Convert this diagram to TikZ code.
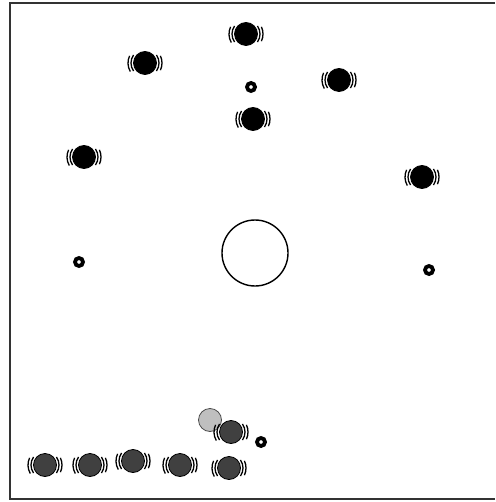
\documentclass[tikz,border=0pt]{standalone}
\begin{document}
\begin{tikzpicture}[x=1pt,y=-1pt,
  blobfill/.style={fill=black,draw=black,line width=0.8pt},
  texfill/.style={fill=black!75,draw=black,line width=0.8pt},
  ear/.style={draw=black,line width=1.3pt},
  ring/.style={draw=black,line width=3.8pt,fill=white},
  bigring/.style={draw=black,line width=1.4pt},
  frame/.style={draw=black!80,line width=1.2pt},
  earpair/.pic={
    \draw[ear] (145:14) arc (145:215:14);
    \draw[ear] (150:17) arc (150:205:17);
    \draw[ear] (-35:14) arc (-35:35:14);
    \draw[ear] (-25:17) arc (-25:25:17);
  }]
\useasboundingbox (0,0) rectangle (495,502);
\draw[frame] (495,3) -- (10,3) -- (10,499) -- (495,499);
% big circle
\node[circle,bigring,minimum size=66pt,inner sep=0pt] (big) at (255,253) {};
% small rings
\foreach \n/\x/\y in {r1/251/87, r2/79/262, r3/429/270, r4/261/442}
  \node[circle,ring,minimum size=8pt,inner sep=0pt] (\n) at (\x,\y) {};
% black blobs with ears
\foreach \n/\x/\y in {b1/246/34, b2/145/63, b3/339/80, b4/253/119, b5/84/157, b6/422/177}{
  \pic at (\x,\y) {earpair};
  \node[circle,blobfill,minimum size=23pt,inner sep=0pt] (\n) at (\x,\y) {};
}
% light gray blob
\node[circle,fill=black!25,draw=black!70,line width=0.8pt,minimum size=23pt,inner sep=0pt] (g1) at (210,420) {};
% textured blobs
\foreach \n/\x/\y in {t1/231/432, t2/45/465, t3/90/465, t4/133/461, t5/180/465, t6/229/468}{
  \pic at (\x,\y) {earpair};
  \node[circle,texfill,minimum size=23pt,inner sep=0pt] (\n) at (\x,\y) {};
}
\end{tikzpicture}
\end{document}
